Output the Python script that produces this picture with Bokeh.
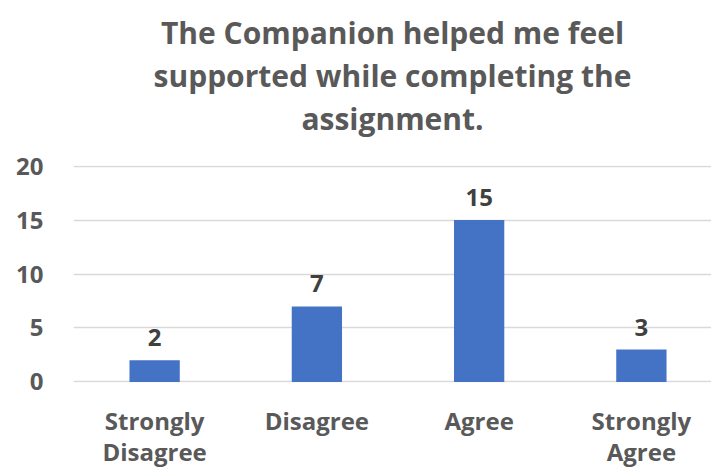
from bokeh.plotting import figure
from bokeh.models import ColumnDataSource, Range1d, FixedTicker, LabelSet, Title
from bokeh.core.properties import value
from bokeh.embed import file_html
from bokeh.resources import INLINE

categories = ["Strongly\nDisagree", "Disagree", "Agree", "Strongly\nAgree"]
counts = [2, 7, 15, 3]
y_ticks = [0, 5, 10, 15, 20]
title_lines = ["The Companion helped me feel", "supported while completing the", "assignment."]

FONT = "Open Sans"
TXT = "#595959"

xs = list(range(len(categories)))
src = ColumnDataSource(dict(x=xs, y=counts, lbl=[str(c) for c in counts]))

p = figure(width=711, height=470, output_backend="svg", toolbar_location=None,
           x_range=Range1d(-0.5, len(categories) - 0.5 - 11 / 162),
           y_range=Range1d(-0.05, 20.05),
           min_border_left=73, min_border_right=0, min_border_bottom=88, min_border_top=165)
p.outline_line_color = None
p.background_fill_color = "white"
p.border_fill_color = "white"

p.vbar(x="x", top="y", width=0.31, bottom=0, source=src, fill_color="#4472C4", line_color=None)

labels = LabelSet(x="x", y="y", text="lbl", source=src, text_align="center", text_baseline="bottom",
                  y_offset=14, text_font=value(FONT), text_font_size="24px", text_font_style="bold",
                  text_color="#404040")
p.add_layout(labels)

p.xaxis.ticker = FixedTicker(ticks=xs)
p.xaxis.major_label_overrides = {i: c for i, c in zip(xs, categories)}
p.yaxis.ticker = FixedTicker(ticks=y_ticks)
for ax in (p.xaxis, p.yaxis):
    ax.axis_line_color = None
    ax.major_tick_line_color = None
    ax.minor_tick_line_color = None
    ax.major_label_text_font = FONT
    ax.major_label_text_font_size = "24px"
    ax.major_label_text_font_style = "bold"
    ax.major_label_text_color = TXT
p.yaxis.major_label_standoff = 24
p.xaxis.major_label_standoff = 15
p.xaxis.major_label_text_line_height = 0.95
p.xgrid.grid_line_color = None
p.ygrid.grid_line_color = "#D9D9D9"
p.ygrid.grid_line_width = 1.5

# spacer between the title block and the plot area
p.add_layout(Title(text=" ", text_font_size="22px", text_line_height=1.0, standoff=0), "above")
for line in reversed(title_lines):
    t = Title(text=line, align="center", text_font=FONT, text_font_size="30px",
              text_font_style="bold", text_color=TXT, standoff=0,
              offset=0, text_line_height=1.05)
    p.add_layout(t, "above")

open("out.html", "w").write(file_html(p, INLINE))
